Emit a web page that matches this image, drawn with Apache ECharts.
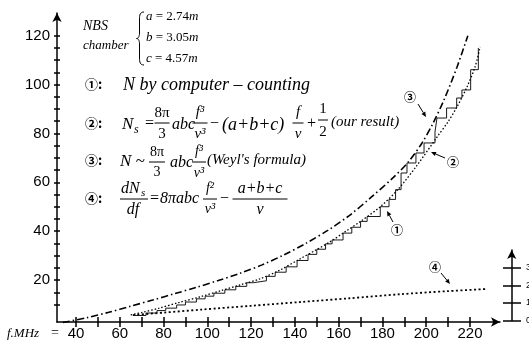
<!DOCTYPE html>
<html><head><meta charset="utf-8">
<script src="https://cdn.jsdelivr.net/npm/echarts@6/dist/echarts.min.js"></script>
<style>html,body{margin:0;padding:0;background:#fff}#c{width:529px;height:346px}</style>
</head><body><div id="c"></div>
<script>
// ---- data (f in MHz, N = number of modes) ----
const xTickLabels = [40, 60, 80, 100, 120, 140, 160, 180, 200, 220];
const yTickLabels = [20, 40, 60, 80, 100, 120];
const rightTickLabels = ['0', '10', '20', '30'];

// curve 3: Weyl's formula (dash-dot)
const weylCurve = [[34,2.6],[45,4.6],[55,6.8],[65,9.3],[75,11.8],[85,14.4],[95,17.0],[105,19.8],[115,22.8],[125,26.2],[135,30.3],[145,35.0],[155,40.3],[165,46.5],[175,54.0],[185,62.0],[192,68.5],[198,76.0],[203,84.0],[208,93.5],[214,107],[219,120]];
// curve 2: our result (dotted)
const oursCurve = [[65,5.7],[70,6.7],[78,8.5],[87,10.8],[97,13.2],[106,15.6],[115,18.0],[124,20.5],[133,24.0],[142,28.5],[150,32.5],[156,35.6],[163,39.8],[170,44.0],[179,50.0],[187,57.0],[196,67.2],[205,78.6],[210,84.8],[214,90.8],[218.6,99],[222.3,107.2],[224.6,115.4]];
// curve 1: computer counting (staircase)
const countSteps = [[66,5.5],[72,6.5],[77,7.5],[81,8.5],[86,9.8],[90,11],[95,12.3],[99,13.4],[103,14.6],[108,16],[113,17.4],[118,18.9],[121,19.7],[127,21.5],[131,23.2],[136,25.4],[141,28],[146,30.5],[150,32.6],[154,34.8],[157,36.4],[162,39.2],[166,41.6],[170,44],[173,46],[179,50],[183,53],[186,57],[188.5,63.8],[191.2,67.9],[195.3,72],[199,76.1],[204,80.6],[204.9,86.3],[209.3,90.4],[213.9,94.5],[216.3,97.8],[220.3,106.1],[223.8,115]];
// curve 4: dNs/df (dotted, right scale)
const densityCurve = [[66,0.31],[80,0.45],[97,0.62],[120,0.84],[142,1.05],[165,1.27],[188,1.5],[210,1.68],[228,1.8]];

const SERIF = '"Liberation Serif","Times New Roman",serif';
const SANS = '"Liberation Sans",Arial,sans-serif';
const CIRC = '"Noto Sans CJK SC","DejaVu Sans",sans-serif';

function T(x, y, text, font, align, extra) {
  return {type:'text', x:x, y:y, silent:true, style:Object.assign({text:text, font:font, fill:'#000', textAlign:align||'left', textVerticalAlign:'middle'}, extra||{})};
}
function L(x1, y1, x2, y2, w) {
  return {type:'line', silent:true, shape:{x1:x1,y1:y1,x2:x2,y2:y2}, style:{stroke:'#000', lineWidth:w||1}};
}
function B(x1, y1, c1x, c1y, c2x, c2y, x2, y2) {
  return {type:'bezierCurve', silent:true, shape:{x1:x1,y1:y1,cpx1:c1x,cpy1:c1y,cpx2:c2x,cpy2:c2y,x2:x2,y2:y2}, style:{stroke:'#000', fill:null, lineWidth:1}};
}
function Frac(cx, yN, yB, yD, num, den, w, font) {
  return [T(cx, yN, num, font, 'center'), L(cx - w/2, yB, cx + w/2, yB, 1), T(cx, yD, den, font, 'center')];
}
function Arrow(x1, y1, x2, y2) {
  const a = Math.atan2(y2 - y1, x2 - x1), s = 5, h = 2.2;
  const bx = x2 - s*Math.cos(a), by = y2 - s*Math.sin(a);
  return [L(x1, y1, bx, by, 1),
    {type:'polygon', silent:true, shape:{points:[[x2,y2],[bx - h*Math.sin(a), by + h*Math.cos(a)],[bx + h*Math.sin(a), by - h*Math.cos(a)]]}, style:{fill:'#000'}}];
}
const it = (s) => 'italic ' + s + 'px ' + SERIF;
const up = (s) => s + 'px ' + SERIF;
const richI = {i:{font:it(13)}};

let g = [];
// header
g.push(T(83, 26, 'NBS', it(14)));
g.push(T(83, 46, 'chamber', it(13)));
g.push(B(144,12, 140,12, 139.5,15, 139.5,19));
g.push(L(139.5,19, 139.5,33, 1));
g.push(B(139.5,33, 139.5,37, 138,38.5, 136.5,38.5));
g.push(B(136.5,38.5, 138,38.5, 139.5,40, 139.5,44));
g.push(L(139.5,44, 139.5,58, 1));
g.push(B(139.5,58, 139.5,62, 140,65, 144,65));
g.push(T(146, 17, '{i|a} = 2.74{i|m}', up(13), 'left', {rich:richI}));
g.push(T(146, 38, '{i|b} = 3.05{i|m}', up(13), 'left', {rich:richI}));
g.push(T(146, 59, '{i|c} = 4.57{i|m}', up(13), 'left', {rich:richI}));
// 1
g.push(T(85, 84, '①:', 'bold 13px ' + CIRC));
g.push(T(123, 85, 'N by computer \u2013 counting', it(18)));
// 2
g.push(T(85, 123, '②:', 'bold 13px ' + CIRC));
g.push(T(122, 125, 'N', it(17)));
g.push(T(134, 130, 's', it(12)));
g.push(T(145, 124, '=', up(16)));
g.push(...Frac(162, 113, 123, 134, '8π', '3', 15, up(15)));
g.push(T(172, 125, 'abc', it(16)));
g.push(...Frac(200, 112, 123, 134, 'f³', 'ν³', 15, it(15)));
g.push(T(210, 124, '\u2212', up(16)));
g.push(T(222, 125, '(a+b+c)', it(18)));
g.push(...Frac(298, 112, 123, 134, 'f', 'ν', 11, it(15)));
g.push(T(307, 124, '+', up(16)));
g.push(...Frac(323, 109, 120, 132, '1', '2', 10, up(15)));
g.push(T(331, 122, '(our result)', it(15)));
// 3
g.push(T(85, 160, '③:', 'bold 13px ' + CIRC));
g.push(T(120, 162, 'N ~', it(17)));
g.push(...Frac(157, 152, 162, 172, '8π', '3', 16, up(14)));
g.push(T(170, 163, 'abc', it(16)));
g.push(...Frac(199, 151, 162, 173, 'f³', 'ν³', 14, it(14)));
g.push(T(207, 160, "(Weyl's formula)", it(15)));
// 4
g.push(T(85, 198, '④:', 'bold 13px ' + CIRC));
g.push(T(121, 189, 'dN', it(16)));
g.push(T(141, 193, 's', it(11)));
g.push(L(120, 199, 148, 199, 1));
g.push(T(133, 210, 'df', it(16), 'center'));
g.push(T(150, 199, '=', up(16)));
g.push(T(160, 199, '8πabc', it(16)));
g.push(...Frac(210, 188, 199, 209, 'f²', 'ν³', 14, it(14)));
g.push(T(220, 199, '\u2212', up(16)));
g.push(...Frac(260, 189, 199, 210, 'a+b+c', 'ν', 55, it(16)));
// axis name
g.push(T(7, 334, 'f.MHz', it(13)));
g.push(T(51, 333, '=', up(14)));
// curve annotations
g.push(T(410, 97, '③', 'bold 12px ' + CIRC, 'center'));
g.push(...Arrow(418, 104, 426, 117));
g.push(T(453, 162, '②', 'bold 12px ' + CIRC, 'center'));
g.push(...Arrow(445, 158, 431, 152));
g.push(T(397, 230, '①', 'bold 12px ' + CIRC, 'center'));
g.push(...Arrow(393, 222, 387, 211));
g.push(T(435, 267, '④', 'bold 12px ' + CIRC, 'center'));
g.push(...Arrow(441, 273, 450, 284));

const blk = '#000';
const GB = {outerBoundsMode:'none', containLabel:false};
const noAx = {axisLine:{show:false}, axisTick:{show:false}, axisLabel:{show:false}, splitLine:{show:false}};
const option = {
  animation:false,
  backgroundColor:'#fff',
  grid:[
    Object.assign({left:76, right:59, top:35.7, bottom:41.5}, GB),        // tick/label grid: f 40..220, N 10..120
    Object.assign({left:57, right:29, top:13, bottom:24}, GB),           // L-frame with arrows
    Object.assign({left:521, width:5, top:268, bottom:25.5}, GB),        // right scale ticks
    Object.assign({left:511.7, width:5, top:250, bottom:25.5}, GB),      // right scale line
    Object.assign({left:54.11, right:15.21, top:35.7, bottom:17.1}, GB)  // data grid: f 30..240, N 0..120
  ],
  xAxis:[
    {gridIndex:0, type:'value', min:40, max:220, interval:10, position:'bottom', offset:12.5,
     axisLine:{show:false, onZero:false}, splitLine:{show:false},
     axisTick:{length:10, lineStyle:{color:blk, width:1.5}},
     axisLabel:{margin:9, color:blk, fontFamily:SANS, fontSize:15, formatter:(v)=> xTickLabels.includes(v) ? String(v) : ''}},
    {gridIndex:1, type:'value', min:0, max:1,
     axisLine:{show:true, onZero:false, symbol:['none','arrow'], symbolSize:[7,9], lineStyle:{color:blk, width:1.5}},
     axisTick:{show:false}, axisLabel:{show:false}, splitLine:{show:false}},
    {gridIndex:2, type:'value', show:false},
    {gridIndex:3, type:'value', show:false},
    Object.assign({gridIndex:4, type:'value', min:30, max:240, show:false}, noAx)
  ],
  yAxis:[
    {gridIndex:0, type:'value', min:10, max:120, interval:5, position:'left', offset:16,
     axisLine:{show:false, onZero:false}, splitLine:{show:false},
     axisTick:{length:6, lineStyle:{color:blk, width:1.5}},
     axisLabel:{margin:10, color:blk, fontFamily:SANS, fontSize:15, formatter:(v)=> yTickLabels.includes(v) ? String(v) : ''}},
    {gridIndex:1, type:'value', min:0, max:1,
     axisLine:{show:true, onZero:false, symbol:['none','arrow'], symbolSize:[7,9], lineStyle:{color:blk, width:1.5}},
     axisTick:{show:false}, axisLabel:{show:false}, splitLine:{show:false}},
    {gridIndex:2, type:'value', min:0, max:3, interval:1, position:'left',
     axisLine:{show:false, onZero:false}, splitLine:{show:false},
     axisTick:{length:18, lineStyle:{color:blk, width:1.5}},
     axisLabel:{inside:true, margin:5, color:blk, fontFamily:SANS, fontSize:9, formatter:(v)=> rightTickLabels[v] || ''}},
    {gridIndex:3, type:'value', min:0, max:1, position:'left',
     axisLine:{show:true, onZero:false, symbol:['none','arrow'], symbolSize:[7,9], lineStyle:{color:blk, width:1.5}},
     axisTick:{show:false}, axisLabel:{show:false}, splitLine:{show:false}},
    Object.assign({gridIndex:4, type:'value', min:0, max:120, position:'left', show:false}, noAx),
    Object.assign({gridIndex:4, type:'value', min:-0.48, max:16.27, position:'right', show:false}, noAx)
  ],
  series:[
    {type:'line', name:'Weyl', data:weylCurve, xAxisIndex:4, yAxisIndex:4, showSymbol:false, clip:false, smooth:0.3,
     lineStyle:{color:blk, width:1.6, type:[7,3,1.5,3]}},
    {type:'line', name:'count', data:countSteps, xAxisIndex:4, yAxisIndex:4, showSymbol:false, clip:false, step:'end',
     lineStyle:{color:blk, width:0.9}},
    {type:'line', name:'ours', data:oursCurve, xAxisIndex:4, yAxisIndex:4, showSymbol:false, clip:false, smooth:0.3,
     lineStyle:{color:blk, width:1.3, type:[1.5,2]}},
    {type:'line', name:'density', data:densityCurve, xAxisIndex:4, yAxisIndex:5, showSymbol:false, clip:false, smooth:0.3,
     lineStyle:{color:blk, width:1.8, type:[2,2.5]}}
  ],
  graphic:{elements:g}
};
const chart = echarts.init(document.getElementById('c'));
chart.setOption(option);
</script></body></html>
